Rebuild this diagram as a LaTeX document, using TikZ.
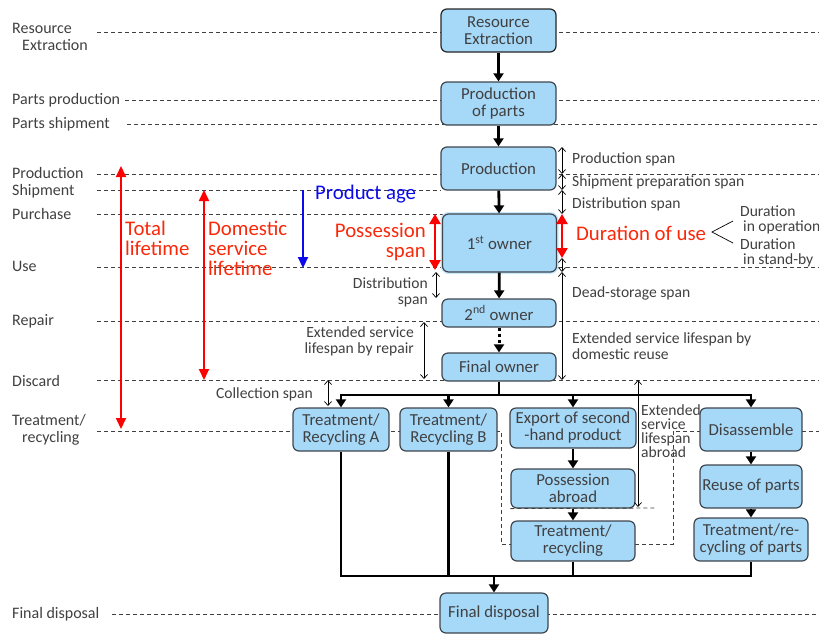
\documentclass[tikz,border=0pt]{standalone}
\usepackage{fontspec}
\setmainfont{Carlito}
\usetikzlibrary{arrows.meta}
\definecolor{boxfill}{RGB}{166,216,248}
\definecolor{boxline}{RGB}{62,70,78}
\definecolor{txt}{RGB}{64,64,64}
\definecolor{redtxt}{RGB}{250,40,10}
\definecolor{bluetxt}{RGB}{10,10,235}
\begin{document}
\begin{tikzpicture}[x=1pt,y=-1pt,
  box/.style={draw=boxline, fill=boxfill, rounded corners=6pt, line width=1.2pt, inner sep=0pt, align=center, text=txt, font=\fontsize{16.8}{17}\selectfont},
  guide/.style={draw=txt, dash pattern=on 4pt off 3pt, line width=0.8pt},
  lbl/.style={text=txt, font=\fontsize{15.6}{16}\selectfont, inner sep=0pt},
  llbl/.style={text=txt, font=\fontsize{16}{17}\selectfont, inner sep=0pt},
  big/.style={font=\fontsize{20.8}{20}\selectfont, inner sep=0pt},
  flow/.style={line width=2.8pt, -{Triangle[length=8pt,width=10pt]}},
  heavy/.style={line width=2.8pt, line join=miter},
  span/.style={line width=0.7pt, {Straight Barb[length=4pt,width=7pt]}-{Straight Barb[length=4pt,width=7pt]}},
  redspan/.style={draw=red, line width=2.4pt, {Triangle[length=10pt,width=11pt]}-{Triangle[length=10pt,width=11pt]}},
  bigred/.style={draw=red, line width=2pt, {Triangle[length=11pt,width=10pt]}-{Triangle[length=11pt,width=10pt]}}
]
\useasboundingbox (0,0) rectangle (819,633);
% ---------- guide lines ----------
\draw[guide] (97,32) -- (819,32);
\draw[guide] (125,100) -- (819,100);
\draw[guide] (127,124) -- (819,124);
\draw[guide] (97,174) -- (819,174);
\draw[guide] (97,190) -- (441,190);
\draw[guide] (97,214) -- (443,214);
\draw[guide] (97,267) -- (819,267);
\draw[guide] (97,321) -- (819,321);
\draw[guide] (97,380) -- (819,380);
\draw[guide] (97,431) -- (501,431) -- (501,544) -- (511,544);
\draw[guide] (635,544) -- (673,544) -- (673,431) -- (819,431);
\draw[guide] (112,614) -- (819,614);
% ---------- left labels ----------
\node[llbl, anchor=west, align=left] (lRes) at (12,36.5) {Resource\\\hspace*{10pt}Extraction};
\node[llbl, anchor=west] (lPP) at (12,100) {Parts production};
\node[llbl, anchor=west] (lPS) at (12,124) {Parts shipment};
\node[llbl, anchor=west] (lProd) at (12,173) {Production};
\node[llbl, anchor=west] (lShip) at (12,191) {Shipment};
\node[llbl, anchor=west] (lPur) at (12,214) {Purchase};
\node[llbl, anchor=west] (lUse) at (12,266) {Use};
\node[llbl, anchor=west] (lRep) at (12,321) {Repair};
\node[llbl, anchor=west] (lDis) at (12,381) {Discard};
\node[llbl, anchor=west, align=left] (lTr) at (12,430) {Treatment/\\\hspace*{10pt}recycling};
\node[llbl, anchor=west] (lFD) at (12,614) {Final disposal};
% ---------- boxes ----------
\node[box, draw=black!85, minimum width=115pt, minimum height=43pt] (res) at (498.5,30.5) {Resource\\Extraction};
\node[box, minimum width=115pt, minimum height=43pt] (parts) at (498.5,103.5) {Production\\of parts};
\node[box, minimum width=115pt, minimum height=43pt] (prod) at (498.5,168.5) {Production};
\node[box, minimum width=114pt, minimum height=58pt, preaction={draw=boxfill!60, line width=4pt}] (own1) at (499.5,243) {1\textsuperscript{st} owner};
\node[box, minimum width=114pt, minimum height=28pt] (own2) at (499,313) {2\textsuperscript{nd} owner};
\node[box, minimum width=114pt, minimum height=28pt] (fown) at (499,367) {Final owner};
\node[box, minimum width=96pt, minimum height=43pt] (trA) at (341,429.5) {Treatment/\\Recycling A};
\node[box, minimum width=97pt, minimum height=43pt] (trB) at (448.5,429.5) {Treatment/\\Recycling B};
\node[box, minimum width=126pt, minimum height=40pt] (exp) at (573,428) {Export of second\\-hand product};
\node[box, minimum width=102pt, minimum height=43pt] (dis) at (751,429.5) {Disassemble};
\node[box, minimum width=124pt, minimum height=39pt] (pos) at (573,488.5) {Possession\\abroad};
\node[box, minimum width=124pt, minimum height=40pt] (trE) at (573,541) {Treatment/\\recycling};
\node[box, minimum width=102pt, minimum height=43pt] (reuse) at (751,486.5) {Reuse of parts};
\node[box, minimum width=114pt, minimum height=43pt] (trP) at (751,539.5) {Treatment/re-\\cycling of parts};
\node[box, minimum width=108pt, minimum height=40pt] (fd) at (494,613) {Final disposal};
\draw[guide] (pos.south west) -- (657,508);
% ---------- flows ----------
\draw[flow] (res) -- (parts);
\draw[flow] (parts) -- (prod);
\draw[flow] (prod) -- (own1);
\draw[flow] (own1) -- (own2);
\draw[line width=3pt, dash pattern=on 3pt off 3pt, -{Triangle[length=8pt,width=10pt]}] (own2) -- (fown);
\coordinate (bus) at (0,395);
\coordinate (bot) at (0,576);
\draw[heavy] (fown.south) -- (fown.south |- bus);
\draw[heavy, line cap=rect] (trA.north |- bus) -- (dis.north |- bus);
\draw[flow] (trA.north |- bus) -- (trA.north);
\draw[flow] (trB.north |- bus) -- (trB.north);
\draw[flow] (exp.north |- bus) -- (exp.north);
\draw[flow] (dis.north |- bus) -- (dis.north);
\draw[flow] (exp) -- (pos);
\draw[flow] (pos) -- (trE);
\draw[flow] (dis) -- (reuse);
\draw[flow] (reuse) -- (trP);
\draw[heavy] (trA.south) -- (trA.south |- bot) -- (trP.south |- bot) -- (trP.south);
\draw[heavy] (trB.south) -- (trB.south |- bot);
\draw[heavy] (trE.south) -- (trE.south |- bot);
\draw[flow] (fd.north |- bot) -- (fd.north);
% ---------- right spans ----------
\draw[span] (562,147) -- (562,174);
\draw[span] (562,174) -- (562,190);
\draw[span] (562,190) -- (562,214);
\draw[redspan] (562,214) -- (562,258);
\draw[span] (562,258) -- (562,272);
\draw[span] (562,272) -- (562,380);
\node[lbl, anchor=west] (sProd) at (572,159) {Production span};
\node[lbl, anchor=west] (sShip) at (572,182) {Shipment preparation span};
\node[lbl, anchor=west] (sDist) at (572,204) {Distribution span};
\node[big, text=redtxt, anchor=west] (duse) at (576,233) {Duration of use};
\draw[line width=0.7pt] (733,221) -- (712,232) -- (733,243);
\node[lbl, anchor=west, align=left, font=\fontsize{15.6}{14.5}\selectfont] (dop) at (740,220) {Duration\\\hspace*{3pt}in operation};
\node[lbl, anchor=west, align=left, font=\fontsize{15.6}{14.5}\selectfont] (dsb) at (740,253) {Duration\\\hspace*{3pt}in stand-by};
\node[lbl, anchor=west] (sDead) at (572,293) {Dead-storage span};
\node[lbl, anchor=west, align=left] (sExt) at (572,346.5) {Extended service lifespan by\\domestic reuse};
% ---------- left spans ----------
\draw[redspan] (435,214) -- (435,270);
\node[big, text=redtxt, anchor=east, align=right] (poss) at (426,242) {Possession\\span};
\draw[span] (436,272) -- (436,298);
\node[lbl, anchor=east, align=right] (dist2) at (428,292.5) {Distribution\\span};
\draw[span] (424,322) -- (424,379);
\node[lbl, anchor=east, align=right] (rep) at (414,341) {Extended service\\lifespan by repair};
\draw[span] (328,380) -- (328,406);
\node[lbl, anchor=east] (coll) at (313,394) {Collection span};
% ---------- abroad ----------
\draw[span] (638,380) -- (638,507);
\node[lbl, anchor=north west, align=left, font=\fontsize{15.6}{14.3}\selectfont] (abr) at (641,404) {Extended\\service\\lifespan\\abroad};
% ---------- big arrows ----------
\draw[bigred] (121,166) -- (121,429);
\node[big, text=redtxt, anchor=west, align=left] (tot) at (125,238) {Total\\lifetime};
\draw[bigred] (204,190) -- (204,380);
\node[big, text=redtxt, anchor=west, align=left] (dom) at (208,248) {Domestic\\service\\lifetime};
\draw[draw=bluetxt, line width=2.2pt, -{Triangle[length=11pt,width=10pt]}] (303,190) -- (303,268);
\node[big, text=bluetxt, anchor=west] (age) at (315,194) {Product age};
\end{tikzpicture}
\end{document}
